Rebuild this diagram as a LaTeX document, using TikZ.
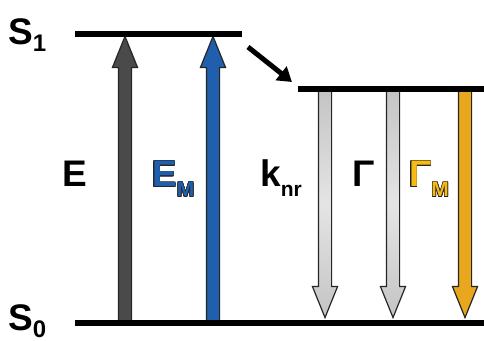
\documentclass[tikz,border=0pt]{standalone}
\usepackage{fontspec}
\setmainfont{Liberation Sans}
\usepackage{contour}
\usetikzlibrary{shapes.arrows,arrows.meta}
\definecolor{excite}{HTML}{4A4A4A}
\definecolor{metal}{HTML}{1F5FAE}
\definecolor{decay}{HTML}{C4C4C4}
\definecolor{emit}{HTML}{E8A71C}
\definecolor{emitlbl}{HTML}{F6BC14}
\contourlength{0.6pt}
\newcommand\lblfont{\fontsize{37}{37}\selectfont\bfseries}
\newcommand\subfont{\fontsize{21}{21}\selectfont\bfseries}
\newcommand\statefont{\fontsize{24}{24}\selectfont\bfseries}

\begin{document}
\begin{tikzpicture}[x=1pt, y=1pt,
    level/.style={line width=6pt},
    fat/.style={single arrow, draw=black!85, line width=1.2pt, inner xsep=0pt, inner ysep=6pt,
        single arrow head extend=6pt, single arrow tip angle=44, anchor=tail},
    lbl/.style={anchor=base west, inner sep=0pt, font=\lblfont}]
    \useasboundingbox (0,0) rectangle (484,340);
    \fill[white] (0,0) rectangle (484,340);
    % up: excitation
    \node[fat, fill=excite, minimum height=286pt, rotate=90] (exc) at (125,17) {};
    \node[fat, fill=metal, minimum height=286pt, rotate=90] (excM) at (213,17) {};
    % down: decay channels
    \node[fat, top color=decay, bottom color=decay, middle color=decay!45, minimum height=227pt, rotate=-90] (knr) at (325,250) {};
    \node[fat, top color=decay, bottom color=decay, middle color=decay!45, minimum height=227pt, rotate=-90] (gam) at (393,250) {};
    \node[fat, fill=emit, minimum height=227pt, rotate=-90] (gamM) at (465,250) {};
    % levels
    \coordinate (s1a) at (75,306);
    \coordinate (s1b) at (242,306);
    \coordinate (s1ra) at (298,251);
    \coordinate (s1rb) at (484,251);
    \coordinate (s0a) at (75,17);
    \coordinate (s0b) at (484,17);
    \draw[level] (s1a) -- (s1b);
    \draw[level] (s1ra) -- (s1rb);
    \draw[level] (s0a) -- (s0b);
    \coordinate (hop) at (248,293);
    \coordinate (hopend) at (292,258);
    \draw[line width=5pt, -{Triangle[length=14pt, width=17pt]}] (hop) -- (hopend);
    % state names
    \node[lbl] (s1lbl) at (8,295) {S\raisebox{-7pt}{\statefont 1}};
    \node[lbl] (s0lbl) at (8,10) {S\raisebox{-7pt}{\statefont 0}};
    % rates
    \node[lbl] (lE) at (62,153) {E};
    \node[lbl] (lEM) at (152,153) {\textcolor{metal}{\contour{black!85}{E}}\raisebox{-10pt}{\subfont\textcolor{metal}{\contour{black!85}{M}}}};
    \node[lbl] (lknr) at (260,153) {k\raisebox{-10pt}{\subfont nr}};
    \node[lbl] (lgam) at (352,153) {Γ};
    \node[lbl] (lgamM) at (409,153) {\textcolor{emitlbl}{\contour{black!85}{Γ}}\raisebox{-10pt}{\subfont\textcolor{emitlbl}{\contour{black!85}{M}}}};
\end{tikzpicture}
\end{document}
